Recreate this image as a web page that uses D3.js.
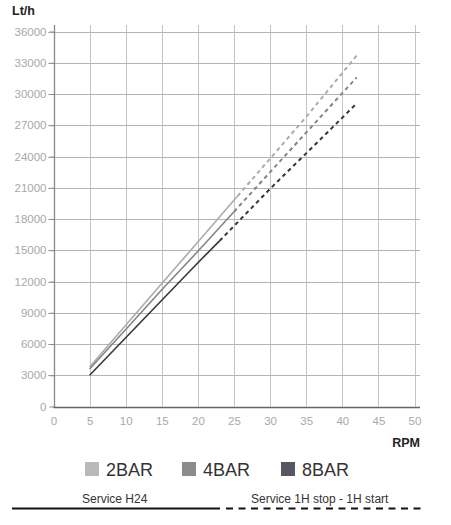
<!DOCTYPE html>
<html><head><meta charset="utf-8">
<script src="https://cdn.jsdelivr.net/npm/d3@7"></script>
<style>body{margin:0;background:#fff}svg{display:block;font-family:"Liberation Sans",Arial,sans-serif}</style>
</head><body>
<svg id="c" width="451" height="525"></svg>
<script>
// ---- data ----
const xTicks = [0,5,10,15,20,25,30,35,40,45,50];
const yTicks = [0,3000,6000,9000,12000,15000,18000,21000,24000,27000,30000,33000,36000];
const seriesNames = ["2BAR","4BAR","8BAR"];
const rpm2 = [5,10,15,20,25.5,30,35,42];
const val2 = [3800,7800,11800,15800,20200,23800,27800,33700];
const rpm4 = [5,10,15,20,25,30,35,42];
const val4 = [3600,7400,11200,14900,18700,22500,26300,31600];
const rpm8 = [5,10,15,20,23,30,35,42];
const val8 = [3000,6600,10200,13800,15900,20900,24300,29100];
const breakIndex = [4,4,4]; // last point of "Service H24" (solid) segment
const lineColors = ["#ababab","#858585","#363640"];
const swatchColors = ["#b9b9b9","#8c8c8c","#555563"];
const serviceLabels = ["Service H24","Service 1H stop - 1H start"];

const svg = d3.select("#c");
const x = d3.scaleLinear().domain([0,50]).range([53.5,414.5]);
const y = d3.scaleLinear().domain([0,36000]).range([406.5,31.5]);

// grid
svg.append("g").selectAll("line").data(xTicks.filter(d=>d>0)).join("line")
  .attr("x1",d=>Math.round(x(d))+0.5).attr("x2",d=>Math.round(x(d))+0.5)
  .attr("y1",25).attr("y2",y(0)).attr("stroke","#c4c4c4").attr("stroke-width",1);
svg.append("g").selectAll("line").data(yTicks.filter(d=>d>0)).join("line")
  .attr("x1",48).attr("x2",420).attr("y1",d=>Math.round(y(d))+0.5).attr("y2",d=>Math.round(y(d))+0.5)
  .attr("stroke","#b4b4b4").attr("stroke-width",1);

// axes
const yAxis = d3.axisLeft(y).tickValues(yTicks).tickSize(5).tickPadding(3).tickFormat(d3.format("d"));
const gy = svg.append("g").attr("transform",`translate(${Math.round(x(0))+0.5},0)`).call(yAxis);
gy.select(".domain").remove();
gy.selectAll(".tick line").attr("stroke","#888");
gy.selectAll("text").attr("fill","#a8a8a8").attr("font-size","11.5px");
svg.append("line").attr("x1",Math.round(x(0))+0.5).attr("x2",Math.round(x(0))+0.5)
  .attr("y1",25).attr("y2",y(0)+0.5).attr("stroke","#888").attr("stroke-width",1.3);

const xAxis = d3.axisBottom(x).tickValues(xTicks).tickSize(0).tickPadding(10);
const gx = svg.append("g").attr("transform",`translate(0,${Math.round(y(0))})`).call(xAxis);
gx.select(".domain").remove();
gx.selectAll("text").attr("fill","#a8a8a8").attr("font-size","11.5px");
svg.append("line").attr("x1",x(0)).attr("x2",420).attr("y1",Math.round(y(0))+0.5).attr("y2",Math.round(y(0))+0.5)
  .attr("stroke","#666").attr("stroke-width",1.3);

// titles
svg.append("text").attr("x",12).attr("y",15).attr("font-size","12.5px").attr("font-weight","bold").attr("fill","#222").text("Lt/h");
svg.append("text").attr("x",420).attr("y",447).attr("text-anchor","end").attr("font-size","12.5px").attr("font-weight","bold").attr("fill","#222").text("RPM");

// series
const series = [[rpm2,val2],[rpm4,val4],[rpm8,val8]];
const line = d3.line().x(d=>x(d[0])).y(d=>y(d[1]));
series.forEach((s,i)=>{
  const pts = s[0].map((r,j)=>[r,s[1][j]]);
  const solid = pts.slice(0,breakIndex[i]+1);
  const dashed = pts.slice(breakIndex[i]);
  svg.append("path").attr("d",line(solid)).attr("fill","none").attr("stroke",lineColors[i]).attr("stroke-width",1.6);
  svg.append("path").attr("d",line(dashed)).attr("fill","none").attr("stroke",lineColors[i]).attr("stroke-width",2).attr("stroke-dasharray","4,3.5");
});

// legend
const legX = [85,182,281];
seriesNames.forEach((n,i)=>{
  svg.append("rect").attr("x",legX[i]).attr("y",462).attr("width",14).attr("height",14).attr("fill",swatchColors[i]);
  svg.append("text").attr("x",legX[i]+21).attr("y",476).attr("font-size","18px").attr("fill","#333").text(n);
});

// service legend
svg.append("text").attr("x",82).attr("y",503).attr("font-size","12px").attr("fill","#333").text(serviceLabels[0]);
svg.append("text").attr("x",251).attr("y",503).attr("font-size","12px").attr("fill","#333").text(serviceLabels[1]);
svg.append("line").attr("x1",12).attr("x2",220).attr("y1",508.5).attr("y2",508.5).attr("stroke","#111").attr("stroke-width",2);
svg.append("line").attr("x1",226).attr("x2",422).attr("y1",508.5).attr("y2",508.5).attr("stroke","#111").attr("stroke-width",2).attr("stroke-dasharray","7,5.5");
</script>
</body></html>
